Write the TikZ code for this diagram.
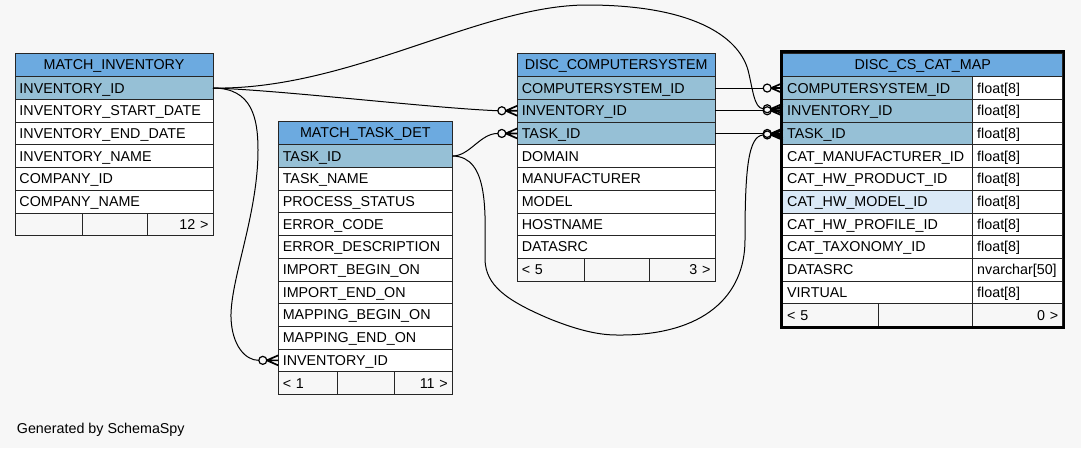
\documentclass[tikz,border=0pt]{standalone}
\usepackage{fontspec}
\setmainfont{Liberation Sans}

\definecolor{hdrblue}{RGB}{108,170,224}
\definecolor{keyblue}{RGB}{150,192,214}
\definecolor{idxblue}{RGB}{218,233,247}
\definecolor{canvas}{RGB}{247,247,247}

\tikzset{
  cell/.style={draw=black!85, line width=0.8pt, anchor=north west, outer sep=0pt,
    inner xsep=4.5pt, inner ysep=0pt, minimum height=22.7pt,
    text height=10pt, text depth=0pt, align=left, font=\fontsize{14.3}{17}\selectfont},
  tblhead/.style={cell, fill=hdrblue, align=center, minimum height=23.7pt},
  keyrow/.style={cell, fill=keyblue},
  plainrow/.style={cell, fill=white},
  tblfoot/.style={cell, fill=canvas},
  conn/.style={line width=1pt, black},
  crow/.style={line width=1.7pt, black},
}

% circle and crow's foot in front of a row
\newcommand{\crowodot}[2][0]{%
  \begin{scope}[shift={(#2.west)}, yshift=#1pt]
    \draw[conn, line width=1.2pt] (-15.5,0) circle (4pt);
    \draw[crow] (-11.5,0) -- (0,0) (-11.5,0) -- (0,5) (-11.5,0) -- (0,-5);
  \end{scope}
}

\begin{document}
\begin{tikzpicture}[x=1pt, y=-1pt]
\fill[canvas] (0,0) rectangle (1081,448);
\useasboundingbox (0,0) rectangle (1081,448);

% MATCH_INVENTORY
\node[tblhead, text width=189pt] (mi) at (15,53) {MATCH\_INVENTORY};
\node[keyrow, text width=189pt] (mi1) at (15,76.7) {INVENTORY\_ID};
\foreach \txt [count=\i from 2] in {INVENTORY\_START\_DATE,INVENTORY\_END\_DATE,INVENTORY\_NAME,COMPANY\_ID,COMPANY\_NAME}
  \node[plainrow, text width=189pt] (mi\i) at (15,{76.7+22.7*(\i-1)}) {\txt};
\node[tblfoot, text width=58.7pt] (mif1) at (15,212.9) {};
\node[tblfoot, text width=56pt] (mif2) at (mif1.north east) {};
\node[tblfoot, text width=56.3pt, align=right] (mif3) at (mif2.north east) {12 >};

% MATCH_TASK_DET
\node[tblhead, text width=165pt] (mt) at (278.3,121) {MATCH\_TASK\_DET};
\node[keyrow, text width=165pt] (mt1) at (278.3,144.7) {TASK\_ID};
\foreach \txt [count=\i from 2] in {TASK\_NAME,PROCESS\_STATUS,ERROR\_CODE,ERROR\_DESCRIPTION,IMPORT\_BEGIN\_ON,IMPORT\_END\_ON,MAPPING\_BEGIN\_ON,MAPPING\_END\_ON,INVENTORY\_ID}
  \node[plainrow, text width=165pt] (mt\i) at (278.3,{144.7+22.7*(\i-1)}) {\txt};
\node[tblfoot, text width=49.7pt] (mtf1) at (278.3,371.7) {< 1};
\node[tblfoot, text width=48.7pt] (mtf2) at (mtf1.north east) {};
\node[tblfoot, text width=48.6pt, align=right] (mtf3) at (mtf2.north east) {11 >};

% DISC_COMPUTERSYSTEM
\node[tblhead, text width=188.7pt] (dc) at (517.3,53) {DISC\_COMPUTERSYSTEM};
\foreach \txt [count=\i] in {COMPUTERSYSTEM\_ID,INVENTORY\_ID,TASK\_ID}
  \node[keyrow, text width=188.7pt] (dc\i) at (517.3,{76.7+22.7*(\i-1)}) {\txt};
\foreach \txt [count=\i from 4] in {DOMAIN,MANUFACTURER,MODEL,HOSTNAME,DATASRC}
  \node[plainrow, text width=188.7pt] (dc\i) at (517.3,{76.7+22.7*(\i-1)}) {\txt};
\node[tblfoot, text width=57.7pt] (dcf1) at (517.3,258.3) {< 5};
\node[tblfoot, text width=56.3pt] (dcf2) at (dcf1.north east) {};
\node[tblfoot, text width=56.7pt, align=right] (dcf3) at (dcf2.north east) {3 >};

% DISC_CS_CAT_MAP
\node[tblhead, text width=271pt] (cm) at (782.7,53) {DISC\_CS\_CAT\_MAP};
\foreach \txt/\typ/\fc [count=\i] in {COMPUTERSYSTEM\_ID/float[8]/keyblue,
    INVENTORY\_ID/float[8]/keyblue, TASK\_ID/float[8]/keyblue,
    CAT\_MANUFACTURER\_ID/float[8]/white, CAT\_HW\_PRODUCT\_ID/float[8]/white,
    CAT\_HW\_MODEL\_ID/float[8]/idxblue, CAT\_HW\_PROFILE\_ID/float[8]/white,
    CAT\_TAXONOMY\_ID/float[8]/white, DATASRC/nvarchar[50]/white, VIRTUAL/float[8]/white}
{
  \node[cell, fill=\fc, text width=181pt] (cm\i) at (782.7,{76.7+22.7*(\i-1)}) {\txt};
  \node[plainrow, text width=81pt] (cmt\i) at (cm\i.north east) {\typ};
}
\node[tblfoot, text width=86.6pt] (cmf1) at (782.7,303.7) {< 5};
\node[tblfoot, text width=85.4pt] (cmf2) at (cmf1.north east) {};
\node[tblfoot, text width=81pt, align=right] (cmf3) at (cmf2.north east) {0 >};
\draw[line width=2.7pt, black] ([shift={(-1.35,-1.35)}]cm.north west) rectangle ([shift={(1.35,1.35)}]cmf3.south east);

% relations
\draw[conn] (mi1.east) .. controls (280,90) and (430,108) .. ([xshift=-19.5pt]dc2.west);
\crowodot{dc2}
\draw[conn] (mi1.east) .. controls (252,88) and (258,118) .. (258,150)
  .. controls (258,215) and (230,280) .. (231,318)
  .. controls (232,345) and (245,360.4) .. ([xshift=-19.5pt]mt10.west);
\crowodot{mt10}
\draw[conn] (mi1.east) .. controls (350,90) and (480,5) .. (587,5)
  .. controls (690,5) and (738,35) .. (748,70)
  .. controls (753,90) and (754,108) .. ([xshift=-19.5pt,yshift=2pt]cm2.west);
\crowodot[2]{cm2}
\draw[conn] (dc1.east) -- ([xshift=-19.5pt]cm1.west);
\crowodot{cm1}
\draw[conn] (dc2.east) -- ([xshift=-19.5pt]cm2.west);
\crowodot{cm2}
\draw[conn] (dc3.east) -- ([xshift=-19.5pt]cm3.west);
\crowodot{cm3}
\draw[conn] (mt1.east) .. controls (470,156) and (480,133.4) .. ([xshift=-19.5pt]dc3.west);
\crowodot{dc3}
\draw[conn] (mt1.east) .. controls (490,156) and (485,215) .. (485,260)
  .. controls (486,285) and (505,300) .. (550,319)
  .. controls (580,331) and (600,335) .. (617,335)
  .. controls (705,336) and (745,295) .. (745,240)
  .. controls (745,170) and (748,136) .. ([xshift=-19.5pt,yshift=-1.5pt]cm3.west);
\crowodot[-1.5]{cm3}

\node[anchor=base west, inner sep=0pt, font=\fontsize{14.3}{17}\selectfont] (credit) at (16.7,433.3) {Generated by SchemaSpy};
\end{tikzpicture}
\end{document}
